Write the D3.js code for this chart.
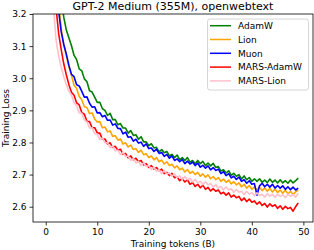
<!DOCTYPE html>
<html><head><meta charset="utf-8">
<script src="https://cdn.jsdelivr.net/npm/d3@7"></script>
<style>body{margin:0;background:#fff}svg{display:block;font-family:"DejaVu Sans",sans-serif}</style>
</head><body><svg id="c" width="314" height="250"></svg>
<script>
const title = "GPT-2 Medium (355M), openwebtext";
const xLabel = "Training tokens (B)";
const yLabel = "Training Loss";
const xTicks = [0, 10, 20, 30, 40, 50];
const yTicks = [2.6, 2.7, 2.8, 2.9, 3.0, 3.1, 3.2];
const seriesNames = ["AdamW", "Lion", "Muon", "MARS-AdamW", "MARS-Lion"];
const seriesColors = ["green", "orange", "blue", "red", "pink"];
const tokens = [1,1.5,2,2.5,3,3.5,4,4.5,5,5.5,6,6.5,7,7.5,8,8.5,9,9.5,10,10.5,11,11.5,12,12.5,13,13.5,14,14.5,15,15.5,16,16.5,17,17.5,18,18.5,19,19.5,20,20.5,21,21.5,22,22.5,23,23.5,24,24.5,25,25.5,26,26.5,27,27.5,28,28.5,29,29.5,30,30.5,31,31.5,32,32.5,33,33.5,34,34.5,35,35.5,36,36.5,37,37.5,38,38.5,39,39.5,40,40.5,41,41.5,42,42.5,43,43.5,44,44.5,45,45.5,46,46.5,47,47.5,48,48.5,49];
const adamw = [3.75,3.6,3.45,3.34,3.25,3.19,3.15,3.125,
  3.101,3.071,3.058,3.029,3.023,2.998,2.989,2.961,2.957,2.941,2.925,2.925,2.905,2.900,2.884,2.891,2.871,2.871,2.855,2.859,2.845,2.845,2.829,2.837,2.822,2.824,2.810,2.818,2.802,2.802,2.790,2.796,2.783,2.785,2.771,2.778,2.768,2.772,2.758,2.763,2.753,2.761,2.746,2.753,2.744,2.753,2.739,2.744,2.734,2.744,2.734,2.741,2.728,2.736,2.727,2.735,2.722,2.725,2.711,2.715,2.705,2.712,2.698,2.704,2.695,2.700,2.686,2.696,2.684,2.691,2.679,2.687,2.679,2.687,2.676,2.683,2.675,2.686,2.676,2.683,2.674,2.684,2.674,2.681,2.673,2.683,2.674,2.681,2.689];
const lion = [3.65,3.48,3.35,3.24,3.155,3.105,3.07,3.035,
  3.009,2.978,2.968,2.943,2.933,2.911,2.909,2.890,2.892,2.873,2.864,2.865,2.846,2.848,2.833,2.836,2.819,2.821,2.807,2.811,2.795,2.799,2.786,2.792,2.778,2.781,2.769,2.776,2.762,2.765,2.753,2.758,2.746,2.753,2.740,2.745,2.733,2.740,2.728,2.732,2.721,2.727,2.715,2.720,2.708,2.716,2.704,2.710,2.700,2.707,2.695,2.702,2.692,2.699,2.687,2.694,2.684,2.691,2.679,2.686,2.676,2.683,2.671,2.678,2.668,2.674,2.662,2.670,2.658,2.666,2.654,2.662,2.652,2.661,2.650,2.658,2.648,2.657,2.646,2.655,2.644,2.652,2.642,2.651,2.640,2.648,2.638,2.646,2.652];
const muon = [3.6,3.45,3.32,3.21,3.145,3.105,3.075,3.04,
  3.012,3.005,2.980,2.976,2.959,2.941,2.942,2.922,2.910,2.911,2.892,2.893,2.880,2.884,2.869,2.870,2.854,2.858,2.844,2.843,2.827,2.832,2.816,2.818,2.804,2.810,2.798,2.801,2.788,2.796,2.781,2.783,2.772,2.779,2.766,2.769,2.757,2.763,2.751,2.758,2.744,2.749,2.740,2.747,2.734,2.742,2.733,2.739,2.728,2.736,2.723,2.729,2.720,2.727,2.715,2.722,2.713,2.717,2.703,2.709,2.697,2.703,2.690,2.695,2.685,2.692,2.679,2.684,2.673,2.681,2.670,2.672,2.636,2.665,2.673,2.662,2.670,2.661,2.670,2.658,2.666,2.658,2.665,2.654,2.662,2.653,2.661,2.652,2.658];
const marsAdamw = [3.55,3.36,3.22,3.14,3.09,3.045,3.01,2.98,
  2.956,2.947,2.923,2.917,2.893,2.888,2.866,2.865,2.846,2.846,2.830,2.829,2.810,2.811,2.795,2.799,2.785,2.788,2.776,2.779,2.763,2.766,2.752,2.758,2.746,2.751,2.740,2.744,2.730,2.734,2.722,2.728,2.717,2.722,2.712,2.717,2.703,2.707,2.697,2.704,2.690,2.693,2.681,2.688,2.677,2.684,2.670,2.675,2.663,2.670,2.659,2.667,2.654,2.660,2.649,2.656,2.648,2.652,2.640,2.645,2.636,2.643,2.630,2.636,2.628,2.632,2.619,2.627,2.616,2.624,2.614,2.618,2.608,2.615,2.604,2.610,2.599,2.609,2.601,2.606,2.595,2.603,2.592,2.601,2.594,2.598,2.586,2.600,2.612];
const marsLion = [3.42,3.22,3.12,3.07,3.035,3.005,2.98,2.96,
  2.948,2.923,2.915,2.892,2.891,2.870,2.864,2.845,2.846,2.828,2.826,2.809,2.814,2.799,2.799,2.784,2.789,2.774,2.776,2.762,2.769,2.756,2.758,2.744,2.750,2.737,2.741,2.728,2.737,2.725,2.728,2.716,2.723,2.711,2.715,2.703,2.713,2.702,2.706,2.695,2.702,2.691,2.696,2.684,2.694,2.684,2.688,2.677,2.685,2.674,2.679,2.668,2.678,2.668,2.672,2.661,2.669,2.658,2.663,2.652,2.662,2.652,2.656,2.645,2.653,2.645,2.648,2.638,2.648,2.639,2.644,2.634,2.643,2.635,2.639,2.630,2.640,2.633,2.639,2.629,2.639,2.632,2.637,2.628,2.639,2.632,2.638,2.630,2.642];
const seriesValues = [adamw, lion, muon, marsAdamw, marsLion];

const svg = d3.select("#c");
const L = 33, R = 313, T = 14, B = 222;
const x = d3.scaleLinear().domain([-2.47, 51.87]).range([L, R]);
const y = d3.scaleLinear().domain([2.5524, 3.2]).range([B, T]);

svg.append("defs").append("clipPath").attr("id", "clip")
  .append("rect").attr("x", L).attr("y", T).attr("width", R - L).attr("height", B - T);

const line = d3.line().x(d => x(d[0])).y(d => y(d[1]));
const g = svg.append("g").attr("clip-path", "url(#clip)");
seriesValues.forEach((vals, i) => {
  g.append("path").datum(tokens.map((t, j) => [t, vals[j]]))
    .attr("d", line).attr("fill", "none")
    .attr("stroke", seriesColors[i]).attr("stroke-width", 1.6)
    .attr("stroke-linejoin", "round");
});

const xa = svg.append("g").attr("transform", `translate(0,${B})`)
  .call(d3.axisBottom(x).tickValues(xTicks).tickSize(3.5).tickPadding(3).tickFormat(d3.format("d")));
const ya = svg.append("g").attr("transform", `translate(${L},0)`)
  .call(d3.axisLeft(y).tickValues(yTicks).tickSize(3.5).tickPadding(3).tickFormat(d3.format(".1f")));
[xa, ya].forEach(a => {
  a.select(".domain").remove();
  a.selectAll("text").attr("font-size", 9).attr("font-family", "DejaVu Sans").attr("fill", "#000");
  a.selectAll("line").attr("stroke", "#000").attr("stroke-width", 0.8);
});

svg.append("rect").attr("x", L).attr("y", T).attr("width", R - L).attr("height", B - T)
  .attr("fill", "none").attr("stroke", "#000").attr("stroke-width", 0.8);

svg.append("text").attr("x", (L + R) / 2).attr("y", 10).attr("text-anchor", "middle")
  .attr("font-size", 11).text(title);
svg.append("text").attr("x", (L + R) / 2).attr("y", 247).attr("text-anchor", "middle")
  .attr("font-size", 9).text(xLabel);
svg.append("text").attr("transform", `translate(9,${(T + B) / 2}) rotate(-90)`)
  .attr("text-anchor", "middle").attr("font-size", 9).text(yLabel);

const lg = svg.append("g");
lg.append("rect").attr("x", 207.5).attr("y", 19).attr("width", 101).attr("height", 71)
  .attr("rx", 2.5).attr("fill", "#fff").attr("fill-opacity", 0.8)
  .attr("stroke", "#ccc").attr("stroke-width", 0.8);
seriesNames.forEach((n, i) => {
  const yy = 25.7 + i * 13.8;
  lg.append("line").attr("x1", 210).attr("x2", 231).attr("y1", yy).attr("y2", yy)
    .attr("stroke", seriesColors[i]).attr("stroke-width", 1.5);
  lg.append("text").attr("x", 238).attr("y", yy + 3.2).attr("font-size", 9).text(n);
});
</script></body></html>
